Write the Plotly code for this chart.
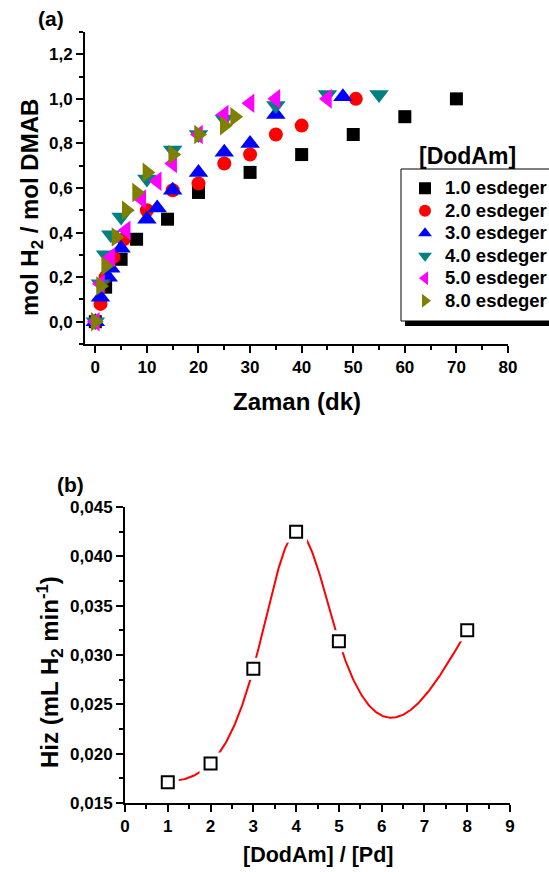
import numpy as np
import plotly.graph_objects as go

# ---------- Panel (a) data ----------
series_names = ["1.0 esdeger", "2.0 esdeger", "3.0 esdeger", "4.0 esdeger", "5.0 esdeger", "8.0 esdeger"]
x_10 = [0, 2, 5, 8, 14, 20, 30, 40, 50, 60, 70]
y_10 = [0, 0.155, 0.28, 0.37, 0.46, 0.58, 0.67, 0.75, 0.84, 0.92, 1.0]
x_20 = [0, 1, 2, 3.5, 5.5, 10, 15, 20, 25, 30, 35, 40, 50.5]
y_20 = [0, 0.08, 0.2, 0.29, 0.37, 0.5, 0.59, 0.62, 0.71, 0.75, 0.84, 0.88, 1.0]
x_30 = [0, 1, 2.5, 3, 5, 10, 12, 15, 20, 25, 30, 35, 48]
y_30 = [0, 0.11, 0.2, 0.24, 0.33, 0.46, 0.51, 0.59, 0.67, 0.76, 0.80, 0.93, 1.01]
x_40 = [0, 1, 2, 3, 5, 10, 15, 20, 25, 35, 45, 55]
y_40 = [0, 0.17, 0.3, 0.39, 0.47, 0.64, 0.77, 0.84, 0.91, 0.97, 1.02, 1.02]
x_50 = [0, 1, 3, 6, 9, 12, 15, 20, 25, 30, 35, 45]
y_50 = [0, 0.17, 0.29, 0.41, 0.55, 0.63, 0.71, 0.84, 0.93, 0.98, 1.0, 1.0]
x_80 = [0, 1, 2, 4, 6, 8, 10, 15, 20, 25, 27]
y_80 = [0, 0.16, 0.25, 0.38, 0.5, 0.58, 0.67, 0.75, 0.84, 0.88, 0.92]

# ---------- Panel (b) data ----------
ratio = [1, 2, 3, 4, 5, 8]
rate = [0.0171, 0.0190, 0.0286, 0.0425, 0.0314, 0.0325]

xs_a = [x_10, x_20, x_30, x_40, x_50, x_80]
ys_a = [y_10, y_20, y_30, y_40, y_50, y_80]
symbols = ["square", "circle", "triangle-up", "triangle-down", "triangle-left", "triangle-right"]
colors = ["#000000", "#FF0000", "#0000FF", "#008080", "#FF00FF", "#808000"]
msizes = [13, 14, 17, 17, 17, 17]

FONT = "Liberation Sans, Arial, sans-serif"
W, H = 549, 872


def px_x(p):
    return p / W


def px_y(p):
    return 1 - p / H


fig = go.Figure()

for xs, ys, nm, sym, col, ms in zip(xs_a, ys_a, series_names, symbols, colors, msizes):
    fig.add_trace(go.Scatter(
        x=xs, y=ys, mode="markers",
        name='<span style="font-size:18.5px">' + nm + "</span>",
        marker=dict(symbol=sym, size=ms, color=col, line=dict(width=0)),
        xaxis="x", yaxis="y", showlegend=True))

# natural cubic spline through the panel (b) points (connection line)
xr = np.array(ratio, float)
yr = np.array(rate, float)
n = len(xr)
h = np.diff(xr)
A = np.zeros((n, n))
b = np.zeros(n)
A[0, 0] = 1
A[-1, -1] = 1
for i in range(1, n - 1):
    A[i, i - 1] = h[i - 1]
    A[i, i] = 2 * (h[i - 1] + h[i])
    A[i, i + 1] = h[i]
    b[i] = 6 * ((yr[i + 1] - yr[i]) / h[i] - (yr[i] - yr[i - 1]) / h[i - 1])
M = np.linalg.solve(A, b)
xx = np.linspace(xr[0], xr[-1], 400)
idx = np.clip(np.searchsorted(xr, xx) - 1, 0, n - 2)
x0 = xr[idx]; x1 = xr[idx + 1]; hh = x1 - x0
yy = (M[idx] * (x1 - xx) ** 3 / (6 * hh) + M[idx + 1] * (xx - x0) ** 3 / (6 * hh)
      + (yr[idx] / hh - M[idx] * hh / 6) * (x1 - xx)
      + (yr[idx + 1] / hh - M[idx + 1] * hh / 6) * (xx - x0))

fig.add_trace(go.Scatter(x=xx, y=yy, mode="lines", line=dict(color="#FF0000", width=2),
                         xaxis="x2", yaxis="y2", showlegend=False, hoverinfo="skip"))
fig.add_trace(go.Scatter(x=ratio, y=rate, mode="markers",
                         marker=dict(symbol="square", size=22, color="white", line=dict(width=0)),
                         xaxis="x2", yaxis="y2", showlegend=False, hoverinfo="skip"))
fig.add_trace(go.Scatter(x=ratio, y=rate, mode="markers",
                         marker=dict(symbol="square", size=12, color="white",
                                     line=dict(width=2, color="black")),
                         xaxis="x2", yaxis="y2", showlegend=False))

axis_common = dict(showline=True, linecolor="black", linewidth=2, ticks="outside",
                   tickcolor="black", tickwidth=2, ticklen=7, showgrid=False, zeroline=False,
                   tickfont=dict(family=FONT, size=17, color="black", weight="bold"),
                   mirror=False, automargin=False)
minor_common = dict(ticks="outside", ticklen=4, tickwidth=2, tickcolor="black")

fig.update_layout(
    width=W, height=H, margin=dict(l=0, r=0, t=0, b=0, autoexpand=False),
    paper_bgcolor="white", plot_bgcolor="white",
    separators=",.",
    xaxis=dict(domain=[px_x(85), px_x(508)], range=[-2, 80], dtick=10, tick0=0,
               anchor="y", minor=dict(dtick=5, **minor_common), **axis_common),
    yaxis=dict(domain=[px_y(344), px_y(32)], range=[-0.1, 1.3], dtick=0.2, tick0=0,
               tickformat=".1f", anchor="x", minor=dict(dtick=0.1, **minor_common), **axis_common),
    xaxis2=dict(domain=[px_x(125), px_x(510)], range=[0, 9], dtick=1, tick0=0,
                anchor="y2", minor=dict(dtick=0.5, **minor_common), **axis_common),
    yaxis2=dict(domain=[px_y(803), px_y(507)], range=[0.015, 0.045], dtick=0.005, tick0=0.015,
                tickformat=".3f", anchor="x2", minor=dict(dtick=0.0025, **minor_common), **axis_common),
    legend=dict(x=px_x(405), y=px_y(172), xanchor="left", yanchor="top",
                bgcolor="rgba(0,0,0,0)", borderwidth=0,
                font=dict(family=FONT, size=15, color="black", weight="bold"),
                itemsizing="constant"),
    showlegend=True,
)

# legend frame with drop shadow (the frame runs past the right edge as in the reference)
fig.add_shape(type="rect", xref="paper", yref="paper",
              x0=px_x(405), x1=1.05, y0=px_y(326), y1=px_y(175),
              fillcolor="black", line=dict(width=0), layer="below")
fig.add_shape(type="rect", xref="paper", yref="paper",
              x0=px_x(401), x1=1.05, y0=px_y(321), y1=px_y(169),
              fillcolor="white", line=dict(width=1, color="black"), layer="below")

ann_font = dict(family=FONT, color="black")


def ann(text, x, y, size, angle=0):
    fig.add_annotation(text=text, x=px_x(x), y=px_y(y), xref="paper", yref="paper",
                       xanchor="center", yanchor="middle", textangle=angle,
                       showarrow=False, font=dict(size=size, **ann_font))


ann("<b>(a)</b>", 51, 18, 21)
ann("<b>(b)</b>", 70, 484, 21)
ann("<b>[DodAm]</b>", 468, 156, 23)
ann("<b>mol H<sub>2</sub> / mol DMAB</b>", 31, 208, 24, -90)
ann("<b>Zaman (dk)</b>", 297, 401, 24)
ann("<b>Hiz (mL H<sub>2</sub> min<sup>-1</sup>)</b>", 50, 672, 24, -90)
ann("<b>[DodAm] / [Pd]</b>", 318, 855, 21.5)

fig.write_html("out.html")
